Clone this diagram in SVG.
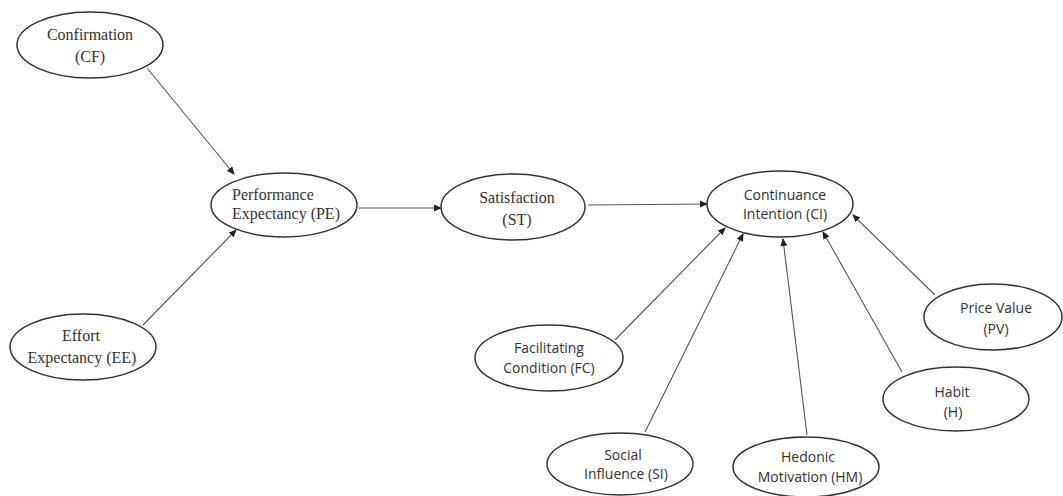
<svg xmlns="http://www.w3.org/2000/svg" width="1063" height="496" viewBox="0 0 1063 496">
<style>
.n ellipse{fill:#fff;stroke:#333;stroke-width:1.5}
.serif{font-family:"Liberation Serif","Times New Roman",serif;font-size:16px;fill:#333}
.sans{font-family:"Open Sans","Liberation Sans",sans-serif;font-size:14px;fill:#333}
.c line{stroke:#555;stroke-width:1.1;marker-end:url(#ah)}
</style>
<defs>
<marker id="ah" markerUnits="userSpaceOnUse" markerWidth="8" markerHeight="7" refX="7" refY="3.5" orient="auto">
<path d="M0,0 L8,3.5 L0,7 Z" fill="#222"/>
</marker>
</defs>
<rect width="1063" height="496" fill="#fff"/>
<g class="c" id="connectors">
<line x1="147" y1="68" x2="234" y2="174"/>
<line x1="143" y1="325" x2="236" y2="230"/>
<line x1="359" y1="208" x2="441" y2="208"/>
<line x1="588" y1="205" x2="707" y2="204"/>
<line x1="615" y1="340" x2="725" y2="228"/>
<line x1="645" y1="432" x2="743" y2="234"/>
<line x1="807" y1="435" x2="783" y2="239"/>
<line x1="902" y1="372" x2="823" y2="232"/>
<line x1="935" y1="295" x2="853" y2="215"/>
</g>
<g class="n" id="CF"><ellipse cx="90" cy="45" rx="73" ry="33"/>
<text class="serif" x="90" y="40" text-anchor="middle">Confirmation</text>
<text class="serif" x="90" y="62" text-anchor="middle">(CF)</text></g>
<g class="n" id="PE"><ellipse cx="284" cy="205" rx="73" ry="32"/>
<text class="serif" x="232" y="200">Performance</text>
<text class="serif" x="232" y="219">Expectancy (PE)</text></g>
<g class="n" id="EE"><ellipse cx="83" cy="347" rx="73" ry="33"/>
<text class="serif" x="81" y="341" text-anchor="middle">Effort</text>
<text class="serif" x="82" y="363" text-anchor="middle">Expectancy (EE)</text></g>
<g class="n" id="ST"><ellipse cx="513" cy="207" rx="72" ry="33"/>
<text class="serif" x="517" y="203" text-anchor="middle">Satisfaction</text>
<text class="serif" x="517" y="225" text-anchor="middle">(ST)</text></g>
<g class="n" id="CI"><ellipse cx="780" cy="204" rx="73" ry="33"/>
<text class="sans" x="785" y="200" text-anchor="middle">Continuance</text>
<text class="sans" x="785" y="219" text-anchor="middle">Intention (CI)</text></g>
<g class="n" id="FC"><ellipse cx="549" cy="358" rx="74" ry="33"/>
<text class="sans" x="549" y="353" text-anchor="middle">Facilitating</text>
<text class="sans" x="549" y="373" text-anchor="middle">Condition (FC)</text></g>
<g class="n" id="SI"><ellipse cx="620" cy="464" rx="73" ry="31"/>
<text class="sans" x="623" y="460" text-anchor="middle">Social</text>
<text class="sans" x="626" y="479" text-anchor="middle">Influence (SI)</text></g>
<g class="n" id="HM"><ellipse cx="806" cy="467" rx="73" ry="30"/>
<text class="sans" x="808" y="462" text-anchor="middle">Hedonic</text>
<text class="sans" x="810" y="482" text-anchor="middle">Motivation (HM)</text></g>
<g class="n" id="H"><ellipse cx="956" cy="399" rx="73" ry="32"/>
<text class="sans" x="952" y="397" text-anchor="middle">Habit</text>
<text class="sans" x="953" y="417" text-anchor="middle">(H)</text></g>
<g class="n" id="PV"><ellipse cx="993" cy="317" rx="69" ry="33"/>
<text class="sans" x="996" y="313" text-anchor="middle">Price Value</text>
<text class="sans" x="996" y="334" text-anchor="middle">(PV)</text></g>
</svg>
